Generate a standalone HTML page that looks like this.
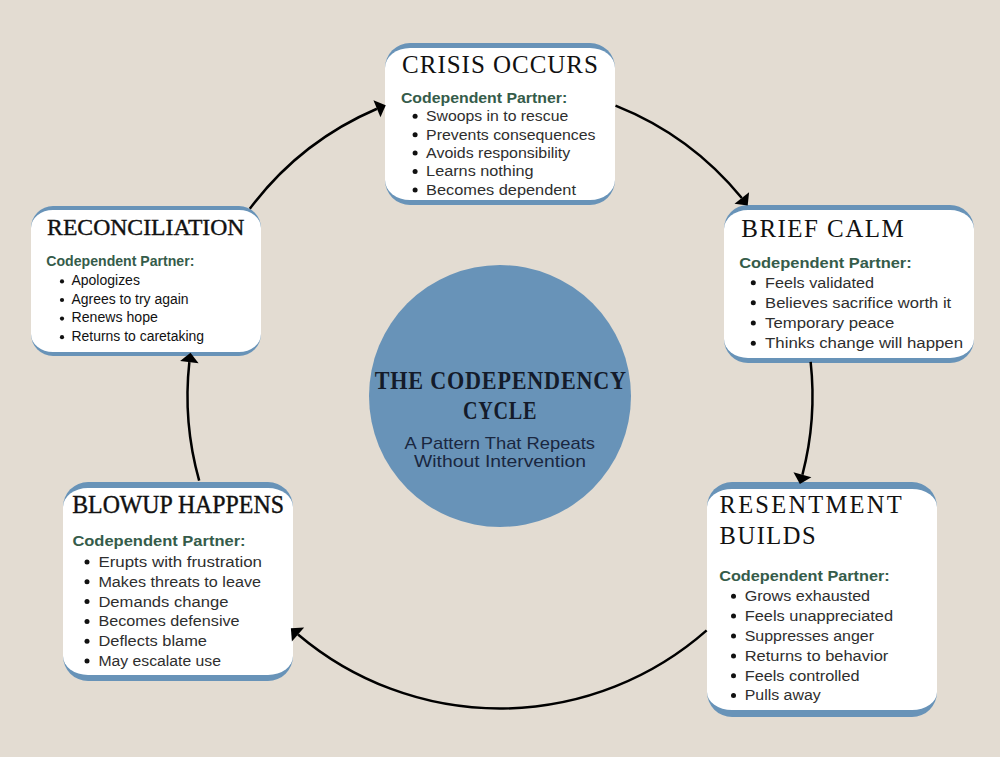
<!DOCTYPE html>
<html><head><meta charset="utf-8"><title>The Codependency Cycle</title>
<style>
html,body{margin:0;padding:0;}
body{width:1000px;height:757px;background:#e3dcd2;position:relative;overflow:hidden;font-family:"Liberation Sans", sans-serif;}
.box{position:absolute;box-sizing:border-box;background:#fff;}
.circle{position:absolute;left:369px;top:265px;width:262px;height:262px;border-radius:50%;background:#6893b8;}
svg{position:absolute;left:0;top:0;}
</style></head><body>
<div class="box" style="left:385px;top:42.5px;width:229.8px;height:162.5px;border-top:5.5px solid #6893b8;border-bottom:5.5px solid #6893b8;border-radius:25px"></div>
<div class="box" style="left:724px;top:205px;width:249.5px;height:157.5px;border-top:5px solid #6893b8;border-bottom:5px solid #6893b8;border-radius:24px"></div>
<div class="box" style="left:30.6px;top:205.6px;width:230px;height:150.4px;border-top:4.5px solid #6893b8;border-bottom:4.5px solid #6893b8;border-radius:22px"></div>
<div class="box" style="left:706.6px;top:481.9px;width:230.4px;height:234.8px;border-top:7px solid #6893b8;border-bottom:7px solid #6893b8;border-radius:25px"></div>
<div class="box" style="left:62.9px;top:481.9px;width:229.7px;height:198.7px;border-top:6px solid #6893b8;border-bottom:6px solid #6893b8;border-radius:25px"></div>
<div class="circle"></div>
<svg width="1000" height="757" viewBox="0 0 1000 757">
<path d="M615.52,105.64 A312.5,312.5 0 0 1 741.79,198.03" fill="none" stroke="#000" stroke-width="2.5"/>
<polygon points="747.70,205.47 734.51,203.81 749.08,192.25" fill="#000"/>
<path d="M810.64,361.93 A312.5,312.5 0 0 1 802.42,474.73" fill="none" stroke="#000" stroke-width="2.5"/>
<polygon points="799.89,483.89 793.46,472.25 811.38,477.21" fill="#000"/>
<path d="M706.64,630.43 A312.5,312.5 0 0 1 298.02,634.45" fill="none" stroke="#000" stroke-width="2.5"/>
<polygon points="290.87,628.20 304.14,627.45 291.90,641.46" fill="#000"/>
<path d="M199.16,480.58 A312.5,312.5 0 0 1 189.34,362.14" fill="none" stroke="#000" stroke-width="2.5"/>
<polygon points="190.51,352.72 198.57,363.29 180.11,361.00" fill="#000"/>
<path d="M249.78,208.79 A312.5,312.5 0 0 1 376.95,108.75" fill="none" stroke="#000" stroke-width="2.5"/>
<polygon points="385.74,105.14 380.48,117.35 373.42,100.14" fill="#000"/>
<text x="402.10" y="72.50" font-family='"Liberation Serif", serif' font-weight="normal" font-size="25" fill="#111" textLength="195.80" lengthAdjust="spacing" 11.699999999999932>CRISIS OCCURS</text>
<text x="741.25" y="236.75" font-family='"Liberation Serif", serif' font-weight="normal" font-size="25" fill="#111" textLength="162.50" lengthAdjust="spacing" 13.174999999999983>BRIEF CALM</text>
<text x="47.10" y="235.30" font-family='"Liberation Serif", serif' font-weight="normal" font-size="23.7" fill="#111" textLength="197.39" lengthAdjust="spacingAndGlyphs" stroke="#111" stroke-width="0.4">RECONCILIATION</text>
<text x="72.20" y="513.30" font-family='"Liberation Serif", serif' font-weight="normal" font-size="24.3" fill="#111" textLength="211.70" lengthAdjust="spacingAndGlyphs" stroke="#111" stroke-width="0.4">BLOWUP HAPPENS</text>
<text x="719.60" y="513.40" font-family='"Liberation Serif", serif' font-weight="normal" font-size="24.5" fill="#111" textLength="182.00" lengthAdjust="spacing" 20.03049999999999>RESENTMENT</text>
<text x="719.60" y="544.00" font-family='"Liberation Serif", serif' font-weight="normal" font-size="24.5" fill="#111" textLength="96.01" lengthAdjust="spacing" 7.5305000000000035>BUILDS</text>
<text x="400.90" y="102.80" font-family='"Liberation Sans", sans-serif' font-weight="bold" font-size="14" fill="#355c4a" textLength="166.30" lengthAdjust="spacingAndGlyphs" >Codependent Partner:</text>
<text x="426.10" y="121.10" font-family='"Liberation Sans", sans-serif' font-weight="normal" font-size="14" fill="#2e2e2e" textLength="142.10" lengthAdjust="spacingAndGlyphs" >Swoops in to rescue</text>
<circle cx="415.1" cy="116.30" r="2.5" fill="#111"/>
<text x="426.10" y="139.50" font-family='"Liberation Sans", sans-serif' font-weight="normal" font-size="14" fill="#2e2e2e" textLength="169.41" lengthAdjust="spacingAndGlyphs" >Prevents consequences</text>
<circle cx="415.1" cy="134.70" r="2.5" fill="#111"/>
<text x="426.10" y="157.90" font-family='"Liberation Sans", sans-serif' font-weight="normal" font-size="14" fill="#2e2e2e" textLength="144.19" lengthAdjust="spacingAndGlyphs" >Avoids responsibility</text>
<circle cx="415.1" cy="153.10" r="2.5" fill="#111"/>
<text x="426.10" y="176.30" font-family='"Liberation Sans", sans-serif' font-weight="normal" font-size="14" fill="#2e2e2e" textLength="107.50" lengthAdjust="spacingAndGlyphs" >Learns nothing</text>
<circle cx="415.1" cy="171.50" r="2.5" fill="#111"/>
<text x="426.10" y="194.70" font-family='"Liberation Sans", sans-serif' font-weight="normal" font-size="14" fill="#2e2e2e" textLength="149.91" lengthAdjust="spacingAndGlyphs" >Becomes dependent</text>
<circle cx="415.1" cy="189.90" r="2.5" fill="#111"/>
<text x="739.20" y="267.60" font-family='"Liberation Sans", sans-serif' font-weight="bold" font-size="14" fill="#355c4a" textLength="172.50" lengthAdjust="spacingAndGlyphs" >Codependent Partner:</text>
<text x="765.10" y="287.70" font-family='"Liberation Sans", sans-serif' font-weight="normal" font-size="14" fill="#2e2e2e" textLength="109.00" lengthAdjust="spacingAndGlyphs" >Feels validated</text>
<circle cx="753.3" cy="282.70" r="2.5" fill="#111"/>
<text x="765.10" y="307.80" font-family='"Liberation Sans", sans-serif' font-weight="normal" font-size="14" fill="#2e2e2e" textLength="186.10" lengthAdjust="spacingAndGlyphs" >Believes sacrifice worth it</text>
<circle cx="753.3" cy="302.80" r="2.5" fill="#111"/>
<text x="765.10" y="327.90" font-family='"Liberation Sans", sans-serif' font-weight="normal" font-size="14" fill="#2e2e2e" textLength="129.20" lengthAdjust="spacingAndGlyphs" >Temporary peace</text>
<circle cx="753.3" cy="322.90" r="2.5" fill="#111"/>
<text x="765.10" y="348.30" font-family='"Liberation Sans", sans-serif' font-weight="normal" font-size="14" fill="#2e2e2e" textLength="197.90" lengthAdjust="spacingAndGlyphs" >Thinks change will happen</text>
<circle cx="753.3" cy="343.30" r="2.5" fill="#111"/>
<text x="46.30" y="266.20" font-family='"Liberation Sans", sans-serif' font-weight="bold" font-size="14" fill="#355c4a" textLength="148.10" lengthAdjust="spacingAndGlyphs" >Codependent Partner:</text>
<text x="71.50" y="285.10" font-family='"Liberation Sans", sans-serif' font-weight="normal" font-size="14" fill="#111" textLength="68.40" lengthAdjust="spacingAndGlyphs" >Apologizes</text>
<circle cx="62" cy="281.40" r="2.1" fill="#111"/>
<text x="71.50" y="303.70" font-family='"Liberation Sans", sans-serif' font-weight="normal" font-size="14" fill="#111" textLength="116.99" lengthAdjust="spacingAndGlyphs" >Agrees to try again</text>
<circle cx="62" cy="300.00" r="2.1" fill="#111"/>
<text x="71.50" y="322.30" font-family='"Liberation Sans", sans-serif' font-weight="normal" font-size="14" fill="#111" textLength="86.40" lengthAdjust="spacingAndGlyphs" >Renews hope</text>
<circle cx="62" cy="318.60" r="2.1" fill="#111"/>
<text x="71.50" y="340.90" font-family='"Liberation Sans", sans-serif' font-weight="normal" font-size="14" fill="#111" textLength="132.60" lengthAdjust="spacingAndGlyphs" >Returns to caretaking</text>
<circle cx="62" cy="337.20" r="2.1" fill="#111"/>
<text x="72.40" y="546.40" font-family='"Liberation Sans", sans-serif' font-weight="bold" font-size="14" fill="#355c4a" textLength="173.20" lengthAdjust="spacingAndGlyphs" >Codependent Partner:</text>
<text x="98.40" y="567.00" font-family='"Liberation Sans", sans-serif' font-weight="normal" font-size="14" fill="#2e2e2e" textLength="163.61" lengthAdjust="spacingAndGlyphs" >Erupts with frustration</text>
<circle cx="87" cy="562.00" r="2.5" fill="#111"/>
<text x="98.40" y="586.80" font-family='"Liberation Sans", sans-serif' font-weight="normal" font-size="14" fill="#2e2e2e" textLength="162.59" lengthAdjust="spacingAndGlyphs" >Makes threats to leave</text>
<circle cx="87" cy="581.80" r="2.5" fill="#111"/>
<text x="98.40" y="606.60" font-family='"Liberation Sans", sans-serif' font-weight="normal" font-size="14" fill="#2e2e2e" textLength="130.01" lengthAdjust="spacingAndGlyphs" >Demands change</text>
<circle cx="87" cy="601.60" r="2.5" fill="#111"/>
<text x="98.40" y="626.40" font-family='"Liberation Sans", sans-serif' font-weight="normal" font-size="14" fill="#2e2e2e" textLength="141.20" lengthAdjust="spacingAndGlyphs" >Becomes defensive</text>
<circle cx="87" cy="621.40" r="2.5" fill="#111"/>
<text x="98.40" y="646.20" font-family='"Liberation Sans", sans-serif' font-weight="normal" font-size="14" fill="#2e2e2e" textLength="108.60" lengthAdjust="spacingAndGlyphs" >Deflects blame</text>
<circle cx="87" cy="641.20" r="2.5" fill="#111"/>
<text x="98.40" y="666.00" font-family='"Liberation Sans", sans-serif' font-weight="normal" font-size="14" fill="#2e2e2e" textLength="122.60" lengthAdjust="spacingAndGlyphs" >May escalate use</text>
<circle cx="87" cy="661.00" r="2.5" fill="#111"/>
<text x="719.20" y="581.30" font-family='"Liberation Sans", sans-serif' font-weight="bold" font-size="14" fill="#355c4a" textLength="170.50" lengthAdjust="spacingAndGlyphs" >Codependent Partner:</text>
<text x="744.70" y="601.00" font-family='"Liberation Sans", sans-serif' font-weight="normal" font-size="14" fill="#2e2e2e" textLength="125.40" lengthAdjust="spacingAndGlyphs" >Grows exhausted</text>
<circle cx="733.5" cy="596.20" r="2.5" fill="#111"/>
<text x="744.70" y="620.90" font-family='"Liberation Sans", sans-serif' font-weight="normal" font-size="14" fill="#2e2e2e" textLength="148.39" lengthAdjust="spacingAndGlyphs" >Feels unappreciated</text>
<circle cx="733.5" cy="616.10" r="2.5" fill="#111"/>
<text x="744.70" y="640.80" font-family='"Liberation Sans", sans-serif' font-weight="normal" font-size="14" fill="#2e2e2e" textLength="129.30" lengthAdjust="spacingAndGlyphs" >Suppresses anger</text>
<circle cx="733.5" cy="636.00" r="2.5" fill="#111"/>
<text x="744.70" y="660.70" font-family='"Liberation Sans", sans-serif' font-weight="normal" font-size="14" fill="#2e2e2e" textLength="143.60" lengthAdjust="spacingAndGlyphs" >Returns to behavior</text>
<circle cx="733.5" cy="655.90" r="2.5" fill="#111"/>
<text x="744.70" y="680.60" font-family='"Liberation Sans", sans-serif' font-weight="normal" font-size="14" fill="#2e2e2e" textLength="114.90" lengthAdjust="spacingAndGlyphs" >Feels controlled</text>
<circle cx="733.5" cy="675.80" r="2.5" fill="#111"/>
<text x="744.70" y="700.40" font-family='"Liberation Sans", sans-serif' font-weight="normal" font-size="14" fill="#2e2e2e" textLength="76.00" lengthAdjust="spacingAndGlyphs" >Pulls away</text>
<circle cx="733.5" cy="695.60" r="2.5" fill="#111"/>
<g transform="scale(0.9,1)"><text x="416.33" y="388.90" font-family='"Liberation Serif", serif' font-weight="bold" font-size="24.6" fill="#141b2a" textLength="279.33" lengthAdjust="spacing" >THE CODEPENDENCY</text></g>
<g transform="scale(0.82,1)"><text x="564.76" y="418.80" font-family='"Liberation Serif", serif' font-weight="bold" font-size="24.6" fill="#141b2a" textLength="89.38" lengthAdjust="spacing" >CYCLE</text></g>
<text x="404.40" y="449.00" font-family='"Liberation Sans", sans-serif' font-weight="normal" font-size="16.2" fill="#1a2740" textLength="190.60" lengthAdjust="spacingAndGlyphs" >A Pattern That Repeats</text>
<text x="414.00" y="467.00" font-family='"Liberation Sans", sans-serif' font-weight="normal" font-size="16.2" fill="#1a2740" textLength="171.99" lengthAdjust="spacingAndGlyphs" >Without Intervention</text>
</svg>
</body></html>
